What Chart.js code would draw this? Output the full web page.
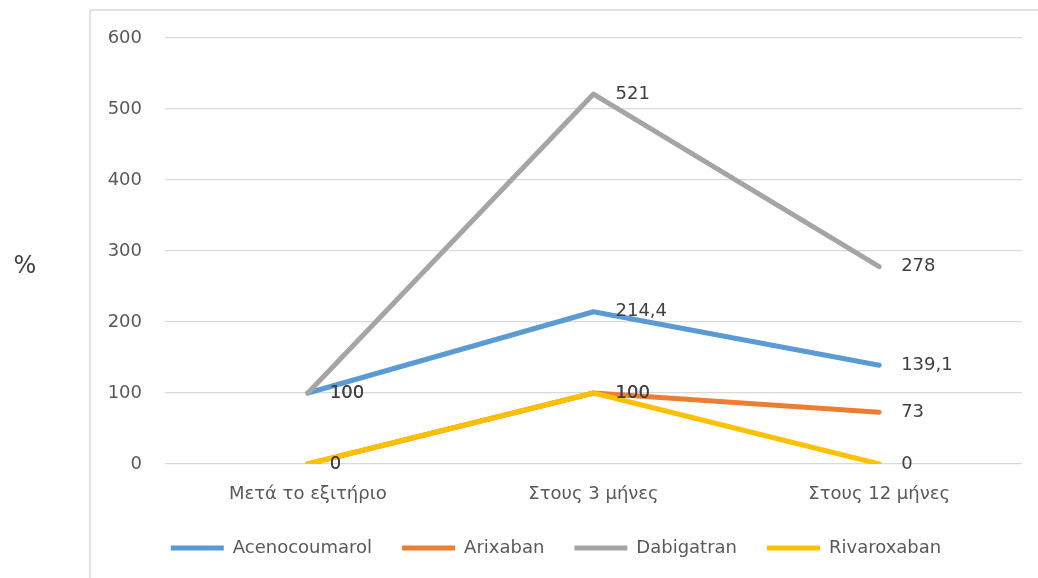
<!DOCTYPE html>
<html>
<head>
<meta charset="utf-8">
<script src="https://cdn.jsdelivr.net/npm/chart.js"></script>
<style>
  html, body { margin: 0; padding: 0; background: #fff; }
  #wrap { width: 1038px; height: 578px; position: relative; }
</style>
</head>
<body>
<div id="wrap"><canvas id="chart"></canvas></div>
<script>
// categories and series
const categories = ['Μετά το εξιτήριο', 'Στους 3 μήνες', 'Στους 12 μήνες'];
const acenocoumarol = [100, 214.4, 139.1];
const arixaban = [0, 100, 73];
const dabigatran = [100, 521, 278];
const rivaroxaban = [0, 100, 0];
const yTicks = [0, 100, 200, 300, 400, 500, 600];

const FONT = 'DejaVu Sans';

// value labels to the right of each point, decimal comma
const valueLabels = {
  id: 'valueLabels',
  afterDatasetsDraw(chart) {
    const ctx = chart.ctx;
    ctx.save();
    ctx.font = '18px "' + FONT + '"';
    ctx.fillStyle = '#404040';
    ctx.textAlign = 'left';
    ctx.textBaseline = 'middle';
    chart.data.datasets.forEach((ds, i) => {
      const meta = chart.getDatasetMeta(i);
      meta.data.forEach((pt, j) => {
        const txt = String(ds.data[j]).replace('.', ',');
        ctx.fillText(txt, pt.x + 22, pt.y);
      });
    });
    ctx.restore();
  }
};

// outer frame and the "%" unit label
const frame = {
  id: 'frame',
  afterDraw(chart) {
    const ctx = chart.ctx;
    ctx.save();
    ctx.strokeStyle = '#d9d9d9';
    ctx.lineWidth = 1.5;
    ctx.beginPath();
    ctx.moveTo(90, 578);
    ctx.lineTo(90, 10);
    ctx.lineTo(1038, 10);
    ctx.stroke();
    ctx.font = '24px "' + FONT + '"';
    ctx.fillStyle = '#404040';
    ctx.textAlign = 'center';
    ctx.textBaseline = 'middle';
    ctx.fillText('%', 25, 267);
    ctx.restore();
  }
};

function series(label, data, color, order) {
  return {
    label: label,
    data: data,
    borderColor: color,
    backgroundColor: color,
    borderWidth: 5,
    pointRadius: 0,
    pointHoverRadius: 0,
    pointStyle: 'line',
    tension: 0,
    fill: false,
    borderCapStyle: 'round',
    borderJoinStyle: 'round',
    order: order
  };
}

new Chart(document.getElementById('chart'), {
  type: 'line',
  data: {
    labels: categories,
    datasets: [
      series('Acenocoumarol', acenocoumarol, '#5b9bd5', 3),
      series('Arixaban', arixaban, '#ed7d31', 2),
      series('Dabigatran', dabigatran, '#a5a5a5', 1),
      series('Rivaroxaban', rivaroxaban, '#ffc000', 0)
    ]
  },
  options: {
    responsive: true,
    maintainAspectRatio: false,
    animation: false,
    layout: { padding: { left: 90, right: 16, top: 38, bottom: 11 } },
    plugins: {
      tooltip: { enabled: false },
      legend: {
        position: 'bottom',
        labels: {
          usePointStyle: true,
          pointStyleWidth: 53,
          padding: 30,
          color: '#595959',
          font: { family: FONT, size: 18 },
          // keep series order in the legend regardless of draw order
          sort: (a, b) => a.datasetIndex - b.datasetIndex
        }
      }
    },
    scales: {
      x: {
        offset: true,
        grid: { display: false, drawTicks: false },
        border: { display: false },
        ticks: { color: '#595959', padding: 20, font: { family: FONT, size: 18 } },
        afterFit(scale) { scale.height = 45; }
      },
      y: {
        min: 0,
        max: 600,
        afterBuildTicks(scale) { scale.ticks = yTicks.map(v => ({ value: v })); },
        grid: { color: '#d9d9d9', lineWidth: 1.3, drawTicks: false },
        border: { display: false },
        ticks: { color: '#595959', padding: 23, font: { family: FONT, size: 18 } },
        afterFit(scale) { scale.width = 75; }
      }
    }
  },
  plugins: [valueLabels, frame]
});
</script>
</body>
</html>
